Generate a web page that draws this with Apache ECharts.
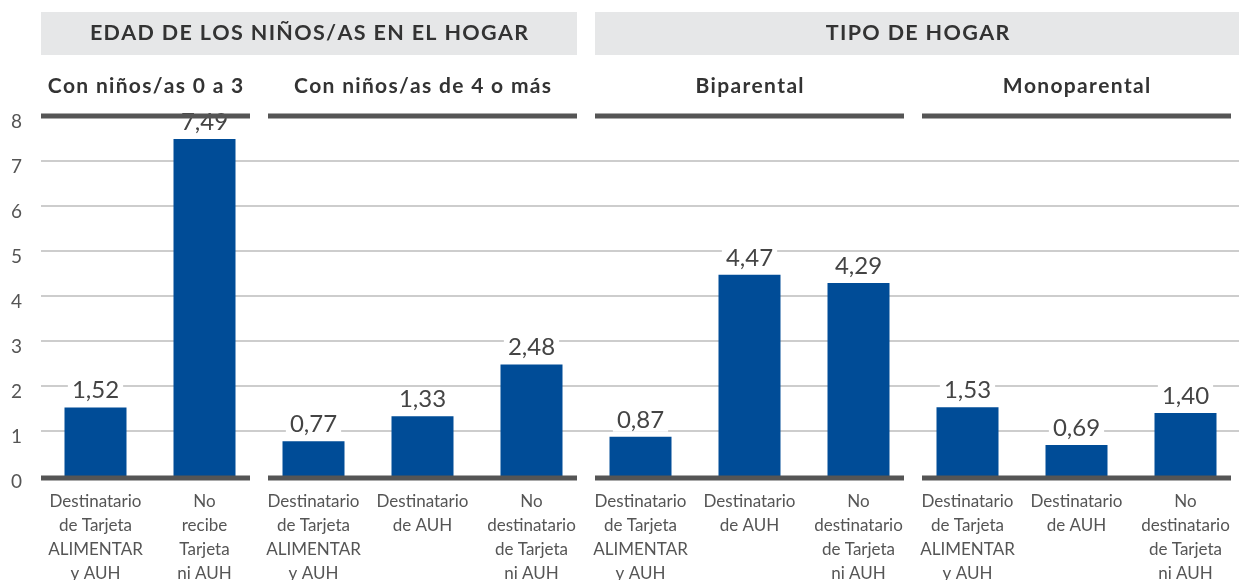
<!DOCTYPE html>
<html>
<head>
<meta charset="utf-8">
<script src="https://cdn.jsdelivr.net/npm/echarts@6/dist/echarts.min.js"></script>
<style>
  html, body { margin: 0; padding: 0; background: #fff; }
  #chart { width: 1239px; height: 580px; }
</style>
</head>
<body>
<div id="chart"></div>
<script>
// categorias (eje x)
const categories = [
  'Destinatario\nde Tarjeta\nALIMENTAR\ny AUH',
  'No\nrecibe\nTarjeta\nni AUH',
  'Destinatario\nde Tarjeta\nALIMENTAR\ny AUH',
  'Destinatario\nde AUH',
  'No\ndestinatario\nde Tarjeta\nni AUH',
  'Destinatario\nde Tarjeta\nALIMENTAR\ny AUH',
  'Destinatario\nde AUH',
  'No\ndestinatario\nde Tarjeta\nni AUH',
  'Destinatario\nde Tarjeta\nALIMENTAR\ny AUH',
  'Destinatario\nde AUH',
  'No\ndestinatario\nde Tarjeta\nni AUH'
]
const values = [1.52, 7.49, 0.77, 1.33, 2.48, 0.87, 4.47, 4.29, 1.53, 0.69, 1.40]

// subgrupos: nombre, primera y ultima categoria
const groupNames = ['Con niños/as 0 a 3', 'Con niños/as de 4 o más', 'Biparental', 'Monoparental']
const groupStart = [0, 2, 5, 8]
const groupEnd = [1, 4, 7, 10]

// encabezados: nombre, primer y ultimo subgrupo
const sectionNames = ['EDAD DE LOS NIÑOS/AS EN EL HOGAR', 'TIPO DE HOGAR']
const sectionStart = [0, 2]
const sectionEnd = [1, 3]

const yTicks = [0, 1, 2, 3, 4, 5, 6, 7, 8]

const FONT = 'Lato, "Open Sans", sans-serif'
const spaced = s => s.split('').join('\u200A')
const chart = echarts.init(document.getElementById('chart'))

chart.setOption({
  animation: false,
  grid: { left: 41, right: -1, top: 116, bottom: 104, containLabel: false, outerBoundsMode: 'none' },
  xAxis: {
    type: 'category',
    data: categories,
    axisLine: { show: false },
    axisTick: { show: false },
    axisLabel: {
      interval: 0,
      margin: 14,
      color: '#555',
      fontFamily: FONT,
      fontSize: 17,
      lineHeight: 24
    }
  },
  yAxis: {
    type: 'value',
    min: yTicks[0],
    max: yTicks[yTicks.length - 1],
    interval: 1,
    axisLine: { show: false },
    axisTick: { show: false },
    axisLabel: {
      color: '#555', fontFamily: FONT, fontSize: 19, margin: 19,
      verticalAlign: 'top', lineHeight: 12
    },
    splitLine: {
      lineStyle: {
        color: ['transparent', '#bdbdbd', '#bdbdbd', '#bdbdbd', '#bdbdbd', '#bdbdbd', '#bdbdbd', '#bdbdbd', 'transparent'],
        width: 1.5
      }
    }
  },
  series: [{
    type: 'bar',
    data: values,
    barWidth: 62,
    itemStyle: { color: '#004c97' },
    label: {
      show: true,
      position: 'top',
      distance: 5,
      color: '#444',
      fontFamily: FONT,
      fontSize: 24,
      backgroundColor: '#fff',
      padding: [0, 4, 0, 4],
      formatter: p => p.value.toFixed(2).replace('.', ',')
    }
  }]
})

function drawDecor() {
  const band = chart.convertToPixel({ xAxisIndex: 0 }, 1) - chart.convertToPixel({ xAxisIndex: 0 }, 0)
  const y0 = chart.convertToPixel({ yAxisIndex: 0 }, 0)
  const y8 = chart.convertToPixel({ yAxisIndex: 0 }, 8)
  const gap = 9
  const elements = []
  const gx = []

  groupNames.forEach((name, i) => {
    const left = i === 0
      ? chart.convertToPixel({ xAxisIndex: 0 }, groupStart[i]) - band / 2
      : chart.convertToPixel({ xAxisIndex: 0 }, groupStart[i]) - band / 2 + gap
    const right = i === groupNames.length - 1
      ? chart.convertToPixel({ xAxisIndex: 0 }, groupEnd[i]) + band / 2
      : chart.convertToPixel({ xAxisIndex: 0 }, groupEnd[i]) + band / 2 - gap
    gx.push([left, right])
    const lineRight = i === groupNames.length - 1 ? right - gap : right;
    [y8, y0 + 2].forEach(y => {
      elements.push({
        type: 'line',
        shape: { x1: left, y1: y, x2: lineRight, y2: y },
        style: { stroke: '#555', lineWidth: 5 },
        z: 100
      })
    })
    elements.push({
      type: 'text',
      x: (left + lineRight) / 2,
      y: 86,
      style: {
        text: spaced(name),
        fill: '#333',
        font: 'bold 21px ' + FONT,
        align: 'center',
        verticalAlign: 'middle'
      }
    })
  })

  sectionNames.forEach((name, i) => {
    const left = gx[sectionStart[i]][0]
    const right = gx[sectionEnd[i]][1]
    elements.push({
      type: 'rect',
      shape: { x: left, y: 12, width: right - left, height: 43 },
      style: { fill: '#e6e7e8' }
    })
    elements.push({
      type: 'text',
      x: (left + right) / 2,
      y: 33,
      style: {
        text: spaced(name),
        fill: '#333',
        font: 'bold 21.5px ' + FONT,
        align: 'center',
        verticalAlign: 'middle'
      },
      z: 10
    })
  })

  chart.setOption({ graphic: { elements: elements } })
}

drawDecor()
</script>
</body>
</html>
